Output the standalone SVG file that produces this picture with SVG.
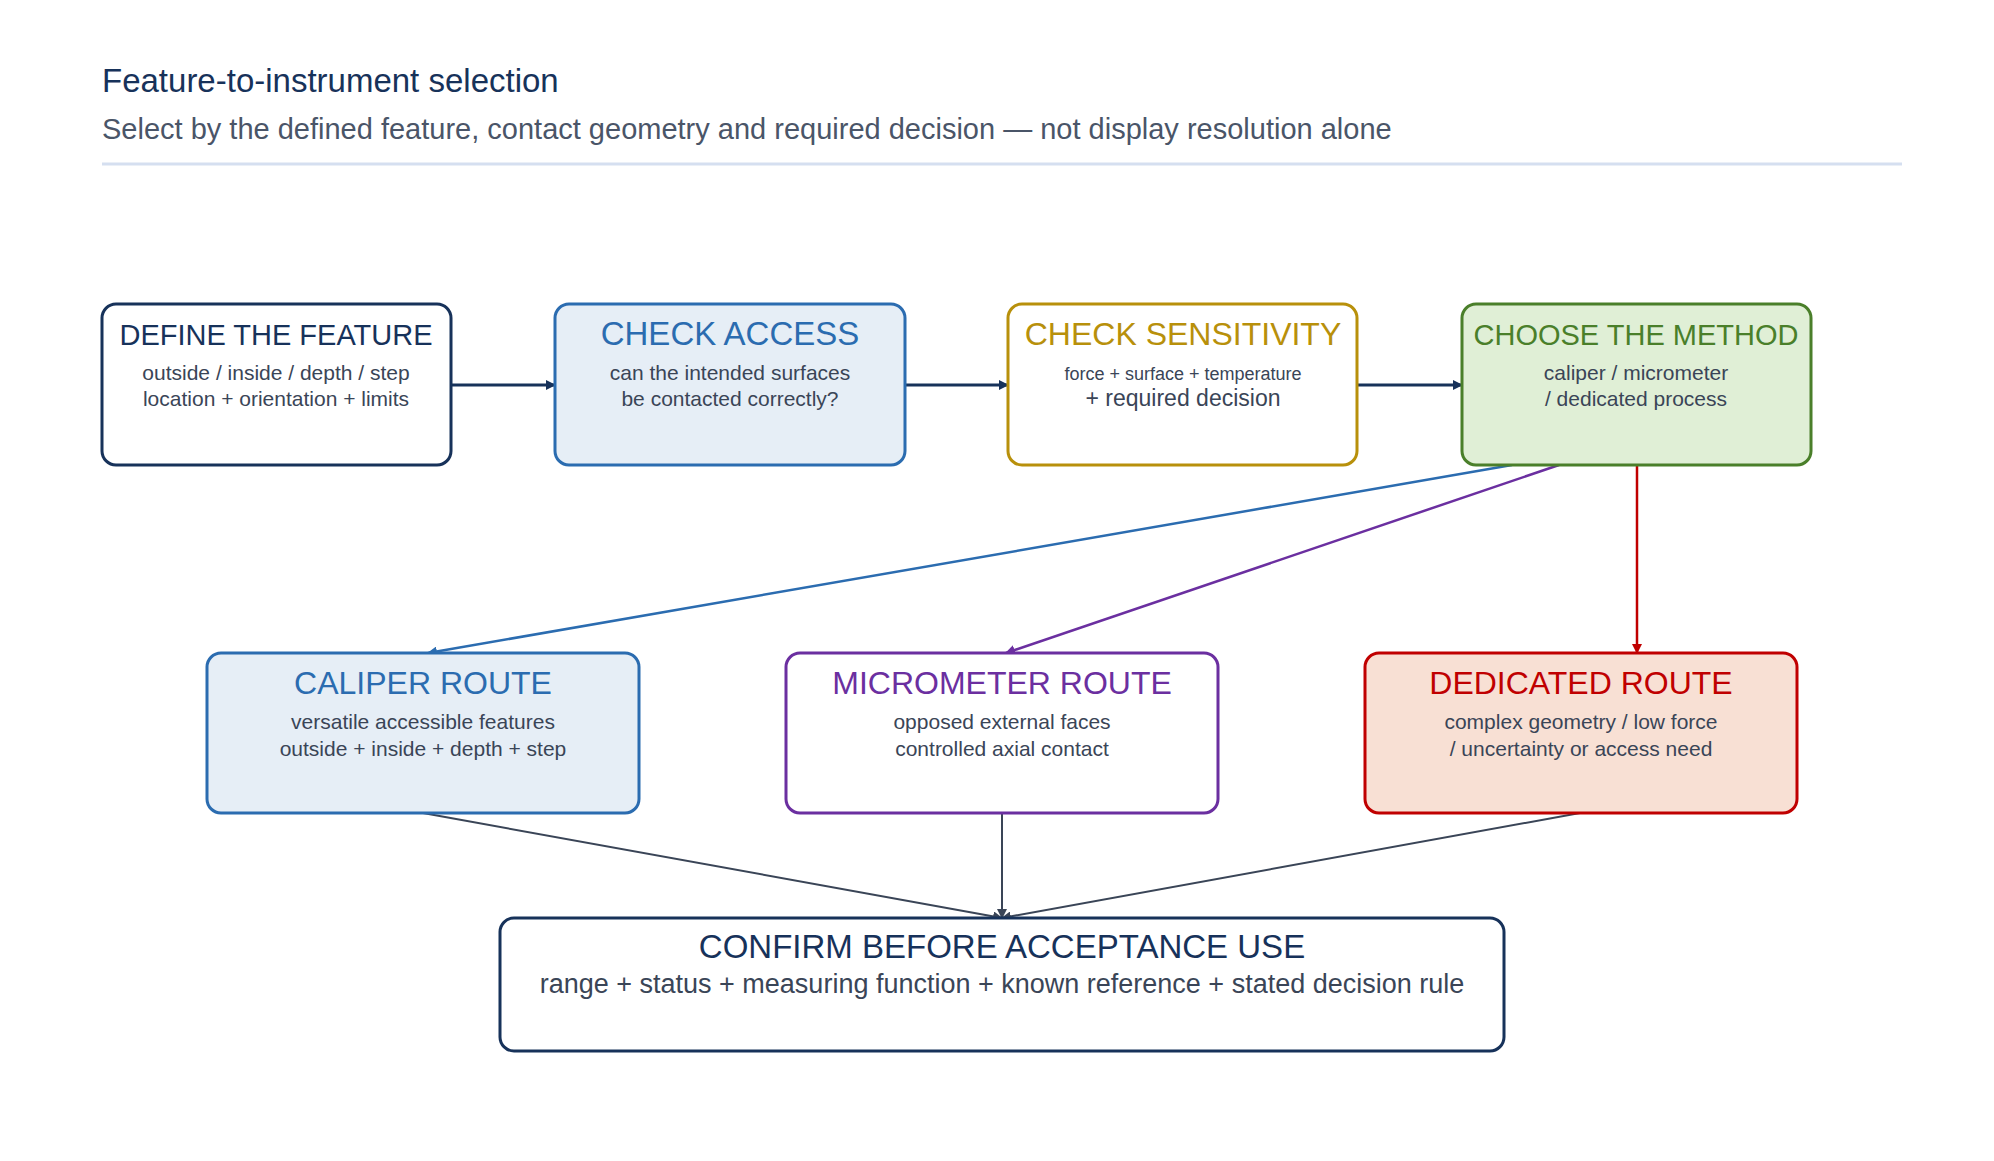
<svg xmlns="http://www.w3.org/2000/svg" width="1994" height="1161" viewBox="0 0 1994 1161">
<style>
text{font-family:"Liberation Sans",Arial,sans-serif;text-anchor:middle}
.t{font-size:29px}.s{font-size:21px;fill:#3a4557}
.box{stroke-width:3}
</style>
<defs>
<marker id="mN" markerWidth="10" markerHeight="10" refX="9" refY="5" orient="auto" markerUnits="userSpaceOnUse"><path d="M0,0L10,5L0,10z" fill="#17325a"/></marker>
<marker id="mB" markerWidth="10" markerHeight="10" refX="9" refY="5" orient="auto" markerUnits="userSpaceOnUse"><path d="M0,0L10,5L0,10z" fill="#2b6cb0"/></marker>
<marker id="mP" markerWidth="10" markerHeight="10" refX="9" refY="5" orient="auto" markerUnits="userSpaceOnUse"><path d="M0,0L10,5L0,10z" fill="#6b2fa0"/></marker>
<marker id="mR" markerWidth="10" markerHeight="10" refX="9" refY="5" orient="auto" markerUnits="userSpaceOnUse"><path d="M0,0L10,5L0,10z" fill="#c00000"/></marker>
<marker id="mG" markerWidth="10" markerHeight="10" refX="9" refY="5" orient="auto" markerUnits="userSpaceOnUse"><path d="M0,0L10,5L0,10z" fill="#3a4557"/></marker>
</defs>
<rect width="1994" height="1161" fill="#fff"/>
<text x="102" y="92" style="text-anchor:start;font-size:33px;fill:#17325a">Feature-to-instrument selection</text>
<text x="102" y="139" style="text-anchor:start;font-size:29px;fill:#4a5568">Select by the defined feature, contact geometry and required decision — not display resolution alone</text>
<line x1="102" y1="164" x2="1902" y2="164" stroke="#d5dff0" stroke-width="3"/>
<g id="connectors" fill="none">
<line x1="451" y1="385" x2="555" y2="385" stroke="#17325a" stroke-width="3" marker-end="url(#mN)"/>
<line x1="905" y1="385" x2="1008" y2="385" stroke="#17325a" stroke-width="3" marker-end="url(#mN)"/>
<line x1="1357" y1="385" x2="1462" y2="385" stroke="#17325a" stroke-width="3" marker-end="url(#mN)"/>
<line x1="1512" y1="465" x2="428" y2="653" stroke="#2b6cb0" stroke-width="2.5" marker-end="url(#mB)"/>
<line x1="1559" y1="465" x2="1006" y2="653" stroke="#6b2fa0" stroke-width="2.5" marker-end="url(#mP)"/>
<line x1="1637" y1="465" x2="1637" y2="653" stroke="#c00000" stroke-width="2.5" marker-end="url(#mR)"/>
<line x1="423" y1="813" x2="1002" y2="918" stroke="#3a4557" stroke-width="2" marker-end="url(#mG)"/>
<line x1="1002" y1="813" x2="1002" y2="918" stroke="#3a4557" stroke-width="2" marker-end="url(#mG)"/>
<line x1="1580" y1="813" x2="1002" y2="918" stroke="#3a4557" stroke-width="2" marker-end="url(#mG)"/>
</g>
<g id="define"><rect class="box" x="102" y="304" width="349" height="161" rx="14" fill="#fff" stroke="#17325a"/>
<text class="t" x="276" y="345" style="fill:#17325a">DEFINE THE FEATURE</text>
<text class="s" x="276" y="380">outside / inside / depth / step</text><text class="s" x="276" y="406">location + orientation + limits</text></g>
<g id="access"><rect class="box" x="555" y="304" width="350" height="161" rx="14" fill="#e6eef6" stroke="#2b6cb0"/>
<text x="730" y="345" style="fill:#2b6cb0;font-size:33px">CHECK ACCESS</text>
<text class="s" x="730" y="380">can the intended surfaces</text><text class="s" x="730" y="406">be contacted correctly?</text></g>
<g id="sensitivity"><rect class="box" x="1008" y="304" width="349" height="161" rx="14" fill="#fff" stroke="#b8900b"/>
<text x="1183" y="345" style="fill:#b8900b;font-size:32px">CHECK SENSITIVITY</text>
<text class="s" x="1183" y="380" style="font-size:18px">force + surface + temperature</text><text class="s" x="1183" y="406" style="font-size:23px">+ required decision</text></g>
<g id="method"><rect class="box" x="1462" y="304" width="349" height="161" rx="14" fill="#e0efd6" stroke="#4a7f2a"/>
<text class="t" x="1636" y="345" style="fill:#4a7f2a">CHOOSE THE METHOD</text>
<text class="s" x="1636" y="380">caliper / micrometer</text><text class="s" x="1636" y="406">/ dedicated process</text></g>
<g id="caliper"><rect class="box" x="207" y="653" width="432" height="160" rx="14" fill="#e6eef6" stroke="#2b6cb0"/>
<text x="423" y="694" style="fill:#2b6cb0;font-size:32px">CALIPER ROUTE</text>
<text class="s" x="423" y="729">versatile accessible features</text><text class="s" x="423" y="756">outside + inside + depth + step</text></g>
<g id="micrometer"><rect class="box" x="786" y="653" width="432" height="160" rx="14" fill="#fff" stroke="#6b2fa0"/>
<text x="1002" y="694" style="fill:#6b2fa0;font-size:32px">MICROMETER ROUTE</text>
<text class="s" x="1002" y="729">opposed external faces</text><text class="s" x="1002" y="756">controlled axial contact</text></g>
<g id="dedicated"><rect class="box" x="1365" y="653" width="432" height="160" rx="14" fill="#f8e0d4" stroke="#c00000"/>
<text x="1581" y="694" style="fill:#c00000;font-size:32px">DEDICATED ROUTE</text>
<text class="s" x="1581" y="729">complex geometry / low force</text><text class="s" x="1581" y="756">/ uncertainty or access need</text></g>
<g id="confirm"><rect class="box" x="500" y="918" width="1004" height="133" rx="14" fill="#fff" stroke="#17325a"/>
<text x="1002" y="958" style="fill:#17325a;font-size:33px">CONFIRM BEFORE ACCEPTANCE USE</text>
<text x="1002" y="993" style="fill:#3a4557;font-size:27px">range + status + measuring function + known reference + stated decision rule</text></g>
</svg>
